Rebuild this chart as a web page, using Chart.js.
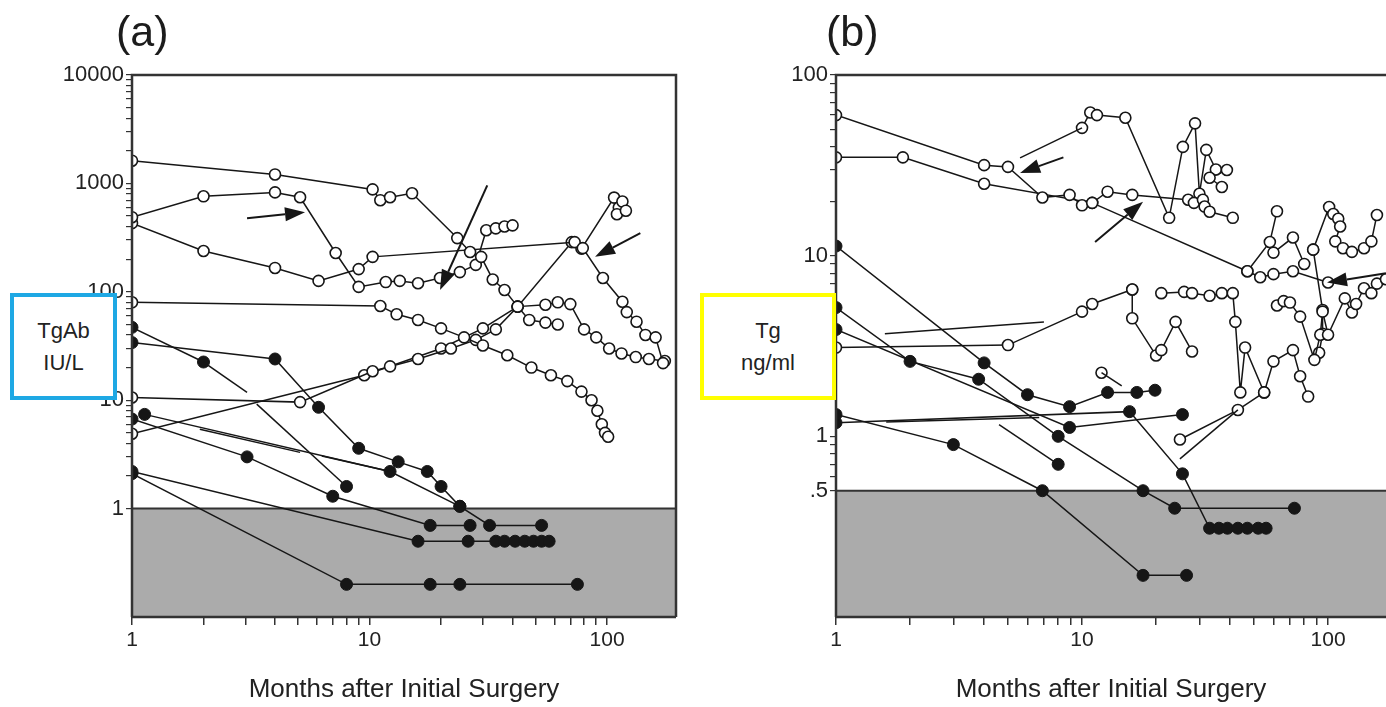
<!DOCTYPE html>
<html>
<head>
<meta charset="utf-8">
<script src="https://cdn.jsdelivr.net/npm/chart.js@4.4.1/dist/chart.umd.min.js"></script>
<style>
  body { margin: 0; background: #fff; width: 1386px; height: 707px; overflow: hidden; position: relative;
         font-family: "Liberation Sans", Arial, Helvetica, sans-serif; color: #222; }
  .wrap { position: absolute; top: 0; height: 707px; }
  .tag { position: absolute; top: 6px; font-size: 43px; line-height: 50px; color: #1c1c1c; }
  .ybox { position: absolute; top: 293px; height: 99px; background: #fff; border: 4px solid;
          font-size: 22px; line-height: 32px; text-align: center; display: flex; flex-direction: column;
          justify-content: center; color: #222; }
</style>
</head>
<body>
<div class="wrap" style="left:0;width:690px"><canvas id="chartA" width="690" height="707"></canvas></div>
<div class="wrap" style="left:690px;width:696px"><canvas id="chartB" width="696" height="707"></canvas></div>
<div class="tag" style="left:116px">(a)</div>
<div class="tag" style="left:826px">(b)</div>
<div class="ybox" style="left:10px;width:99px;border-color:#1ea8e4"><div>TgAb</div><div>IU/L</div></div>
<div class="ybox" style="left:700px;width:128px;border-color:#ffff00"><div>Tg</div><div>ng/ml</div></div>
<script>
// ---- axes ----
const xTicks = [1, 2, 3, 4, 5, 6, 7, 8, 9, 10, 20, 30, 40, 50, 60, 70, 80, 90, 100];
const xLabelValues = [1, 10, 100];
const xLabelText = ['1', '10', '100'];
const xTitle = 'Months after Initial Surgery';

const tgabYTicks = [];
for (let d = 1; d <= 1000; d *= 10) for (let k = 1; k < 10; k++) tgabYTicks.push(k * d);
tgabYTicks.push(10000);
const tgabYLabelValues = [1, 10, 100, 1000, 10000];
const tgabYLabelText = ['1', '10', '100', '1000', '10000'];

const tgYTicks = [0.5, 0.6, 0.7, 0.8, 0.9];
for (let d = 1; d <= 10; d *= 10) for (let k = 1; k < 10; k++) tgYTicks.push(k * d);
tgYTicks.push(100);
const tgYLabelValues = [0.5, 1, 10, 100];
const tgYLabelText = ['.5', '1', '10', '100'];

// ---- panel (a): TgAb, IU/L ----
const tgabOpen = [
  [[1,1620],[4,1210],[10.3,880],[11.1,700],[12.2,745],[15.1,810],[23.4,313],[26.5,233],[29.5,210],[33,130],[37,104],[42,73],[47,55],[55,52],[62,50]],
  [[1,488],[2,760],[4,826],[5.1,745],[7.2,228],[9,111],[11.7,123],[13.4,126],[16,120],[19.8,134],[24,152],[28,177],[31,370],[34,385],[37,400],[40,410]],
  [[1,430],[2,238],[4,166],[6.1,126],[9,162],[10.3,210],[73,287],[79,253],[96,134],[116,81],[121,65],[133,53],[145,40],[160,38],[172,22]],
  [[1,80],[11.1,74],[13,62],[16,55],[20,46],[25,38],[30,32],[38,26],[48,20],[58,17],[68,15],[78,12],[86,10],[91,8],[95,6],[98,5],[101,4.6]],
  [[1,10.6],[5.1,9.6],[10.3,18.5],[12.2,20.5],[16,24],[22,30],[28,36],[34,45],[42,73],[55,76],[62,80],[70,77],[80,45],[90,38],[102,30],[115,27],[132,25],[150,24],[175,23]],
  [[1,4.9],[9.5,17],[20,30],[30,46],[42,73],[71,287],[78,250],[107,740],[112,600],[116,680],[110,520],[120,560]]
];
const tgabFilled = [
  [[1,47],[2,22.5]],
  [[1,34],[4,24],[6.1,8.6],[9,3.6],[13.2,2.7],[17.5,2.2],[20,1.6],[24,1.05],[32,0.7],[53,0.7]],
  [[1,6.7],[3.05,3.0],[7,1.3],[18,0.7],[26.5,0.7]],
  [[1.13,7.4],[12.2,2.2],[24,1.05]],
  [[8,1.6]],
  [[1,2.2],[16,0.5],[26,0.5],[34,0.5],[37,0.5],[41,0.5],[45,0.5],[49,0.5],[53,0.5],[57,0.5]],
  [[1,2.1],[8,0.2],[18,0.2],[24,0.2],[75,0.2]]
];
const tgabSegments = [
  [[2,22.5],[3.05,11.8]],
  [[1.93,5.4],[5.1,3.3]],
  [[3.35,9.2],[8,1.6]],
  [[6.3,3.06],[12.2,2.2]]
];
const tgabArrows = [[3.05,478,5.35,542],[31.3,960,19.8,104],[138,348,89,210]];
const tgabLimit = 1;

// ---- panel (b): Tg, ng/ml ----
const tgOpen = [
  [[1,60],[4,31.7],[5,31],[6.9,21],[8.9,21.7],[10,19],[11,19.6],[12.7,22.6],[16,21.7],[27,20.4],[28.5,19.6],[31,20.4],[31.5,18.7],[33,17.5],[41,16.2]],
  [[1,35],[1.87,35],[4,25],[11,19.6],[47,8.2],[53,7.6],[60,7.9],[72,8.2],[100,7.1]],
  [[10,51],[10.8,62],[11.5,60],[15,58],[22.6,16.2],[25.7,40],[28.8,54],[30,22],[32,38.5],[35,30],[38.8,29.8],[33,27],[37,24]],
  [[47,8.2],[58,11.9],[62,17.6]],
  [[60,10.4],[72,12.6],[80,9]],
  [[87,10.8],[101,18.6],[105,17],[110,16],[112,14.5],[107,12],[115,11],[125,10.5],[140,11],[150,12],[158,16.8]],
  [[1,3.1],[5,3.2],[10,4.9],[11,5.4],[16,6.5]],
  [[16,6.5],[16,4.5],[20,2.8],[21,3.0],[24,4.3],[28,2.95]],
  [[21,6.2],[26,6.3],[28,6.2],[33,6.0],[37,6.2],[41,6.2],[42,4.3],[44,1.75],[46,3.1],[55,1.75],[60,2.6],[72,3.0],[77,2.15],[83,1.66]],
  [[12,2.25]],
  [[25,0.96],[43,1.4],[55,1.75]],
  [[62,5.3],[66,5.6],[70,5.5],[77,4.6],[88,2.65],[93,3.65],[95,4.9],[100,3.65],[117,5.8],[125,4.85],[130,5.4],[140,6.6],[150,6.2],[158,7],[172,7.4]],
  [[87,10.8],[95,5],[95,3.7],[92,2.9]]
];
const tgFilled = [
  [[1,11.3],[4,2.55],[6,1.7],[8.9,1.46],[12.7,1.75],[16.7,1.75],[19.8,1.8]],
  [[1,5.16],[2,2.6],[3.8,2.07],[8,1.0],[17.7,0.5],[23.8,0.4],[73,0.4]],
  [[1,3.9],[8.9,1.12],[25.6,1.32]],
  [[1,1.32],[3,0.9],[6.9,0.5],[17.7,0.17],[26.6,0.17]],
  [[1,1.19],[15.6,1.37],[25.6,0.62],[33,0.31],[36,0.31],[39,0.31],[43,0.31],[47,0.31],[52,0.31],[56,0.31]],
  [[8,0.7]]
];
const tgSegments = [
  [[1.58,3.7],[7,4.3]],
  [[1.6,1.2],[6.7,1.27]],
  [[4.6,1.16],[8,0.7]],
  [[12,2.25],[14.5,1.9]],
  [[25,0.75],[43,1.4]],
  [[5.6,34.8],[10,51]]
];
const tgArrows = [[8.4,35,5.6,28.7],[11.3,11.9,17.7,19.9],[172,8,99,7.1]];
const tgLimit = 0.5;

// ---- helpers ----
const INK = '#161616';
function toXY(pts) { return pts.map(p => ({ x: p[0], y: p[1] })); }

function makeDatasets(open, filled, segs) {
  const out = [];
  segs.forEach(s => out.push({ data: toXY(s), showLine: true, borderColor: INK, borderWidth: 1.5, pointRadius: 0 }));
  filled.forEach(s => out.push({ data: toXY(s), showLine: true, borderColor: INK, borderWidth: 1.5,
    pointRadius: 6, pointBackgroundColor: INK, pointBorderColor: INK, pointBorderWidth: 1 }));
  open.forEach(s => out.push({ data: toXY(s), showLine: true, borderColor: INK, borderWidth: 1.5,
    pointRadius: 5.5, pointBackgroundColor: '#fff', pointBorderColor: INK, pointBorderWidth: 1.6 }));
  return out;
}

function drawArrow(ctx, x1, y1, x2, y2) {
  const ang = Math.atan2(y2 - y1, x2 - x1), L = 20, W = 7;
  const bx = x2 - L * Math.cos(ang), by = y2 - L * Math.sin(ang);
  ctx.beginPath(); ctx.moveTo(x1, y1); ctx.lineTo(bx, by); ctx.stroke();
  ctx.beginPath();
  ctx.moveTo(x2, y2);
  ctx.lineTo(bx + W * Math.sin(ang), by - W * Math.cos(ang));
  ctx.lineTo(bx - W * Math.sin(ang), by + W * Math.cos(ang));
  ctx.closePath(); ctx.fill();
}

const panelPlugin = {
  id: 'panel',
  beforeDatasetsDraw(chart, args, opts) {
    const { ctx, chartArea: a, scales: { y } } = chart;
    const yl = y.getPixelForValue(opts.limit);
    ctx.save();
    ctx.fillStyle = '#ababab';
    ctx.fillRect(a.left, yl, a.right - a.left, a.bottom - yl);
    ctx.strokeStyle = '#333'; ctx.lineWidth = 2;
    ctx.beginPath(); ctx.moveTo(a.left, yl); ctx.lineTo(a.right, yl); ctx.stroke();
    ctx.restore();
  },
  afterDatasetsDraw(chart, args, opts) {
    const { ctx, chartArea: a, scales: { x, y } } = chart;
    ctx.save();
    ctx.strokeStyle = INK; ctx.fillStyle = INK; ctx.lineWidth = 2;
    opts.arrows.forEach(r => drawArrow(ctx, x.getPixelForValue(r[0]), y.getPixelForValue(r[1]),
                                            x.getPixelForValue(r[2]), y.getPixelForValue(r[3])));
    ctx.strokeStyle = '#333'; ctx.lineWidth = 2.5;
    ctx.beginPath();
    ctx.moveTo(a.left, a.bottom); ctx.lineTo(a.left, a.top); ctx.lineTo(a.right, a.top);
    if (opts.rightSide) ctx.lineTo(a.right, a.bottom);
    ctx.moveTo(a.left, a.bottom); ctx.lineTo(a.right, a.bottom);
    ctx.stroke();
    ctx.restore();
  }
};

function labelFor(values, texts) {
  return v => { const i = values.indexOf(+v.toPrecision(6)); return i >= 0 ? texts[i] : ''; };
}

function makeChart(id, p) {
  return new Chart(document.getElementById(id), {
    type: 'scatter',
    data: { datasets: makeDatasets(p.open, p.filled, p.segs) },
    plugins: [panelPlugin],
    options: {
      responsive: false, animation: false, devicePixelRatio: 1,
      layout: { autoPadding: false, padding: { top: 75, right: p.padRight, left: 0, bottom: 0 } },
      plugins: { legend: { display: false }, tooltip: { enabled: false },
                 panel: { limit: p.limit, arrows: p.arrows, rightSide: p.rightSide } },
      scales: {
        x: {
          type: 'logarithmic', min: 1, max: p.xMax,
          afterBuildTicks: s => { s.ticks = xTicks.map(v => ({ value: v })); },
          afterFit: s => { s.height = 90; },
          ticks: { autoSkip: false, maxRotation: 0, padding: 3, color: '#222',
                   font: { family: 'Liberation Sans', size: 21 },
                   callback: labelFor(xLabelValues, xLabelText) },
          grid: { drawOnChartArea: false, drawTicks: true, tickLength: 8, color: '#333', lineWidth: 1.5 },
          border: { display: false },
          title: { display: true, text: xTitle, color: '#222', font: { family: 'Liberation Sans', size: 26 },
                   padding: { top: 0, bottom: 2 } }
        },
        y: {
          type: 'logarithmic', min: 0.1, max: p.yMax,
          afterBuildTicks: s => { s.ticks = p.yTicks.map(v => ({ value: v })); },
          afterFit: s => { s.width = p.yWidth; },
          ticks: { autoSkip: false, padding: 2, color: '#222',
                   font: { family: 'Liberation Sans', size: 22 },
                   callback: labelFor(p.yLabelValues, p.yLabelText) },
          grid: { drawOnChartArea: false, drawTicks: true, tickLength: 6, color: '#333', lineWidth: 1.2 },
          border: { display: false }
        }
      }
    }
  });
}

makeChart('chartA', { open: tgabOpen, filled: tgabFilled, segs: tgabSegments, arrows: tgabArrows,
  limit: tgabLimit, xMax: 195, yMax: 10000, yTicks: tgabYTicks, yLabelValues: tgabYLabelValues,
  yLabelText: tgabYLabelText, yWidth: 132, padRight: 14, rightSide: true });
makeChart('chartB', { open: tgOpen, filled: tgFilled, segs: tgSegments, arrows: tgArrows,
  limit: tgLimit, xMax: 172, yMax: 100, yTicks: tgYTicks, yLabelValues: tgYLabelValues,
  yLabelText: tgYLabelText, yWidth: 146, padRight: 0, rightSide: false });
</script>
</body>
</html>
